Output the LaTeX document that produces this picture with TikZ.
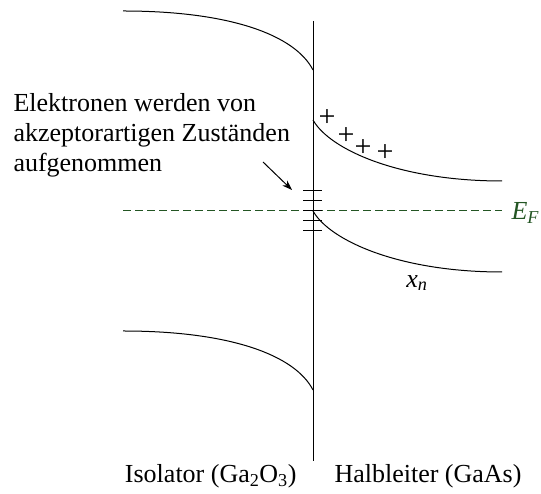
\documentclass[tikz,border=0pt]{standalone}
\usepackage{fontspec}
\setmainfont{Liberation Serif}
\usetikzlibrary{arrows.meta}
\definecolor{fermigreen}{RGB}{35,85,35}
\begin{document}
\begin{tikzpicture}[x=1pt,y=1pt,line width=1pt,>={Stealth[length=10pt,width=7pt]},
  every node/.style={font=\fontsize{26}{30}\selectfont, inner sep=0pt}]
\useasboundingbox (0,0) rectangle (541,494);
% interface
\draw (313,473) -- (313,33);
% bands, insulator
\draw (123,483) .. controls (230,483) and (295,459) .. (313,424);
\draw (123,163) .. controls (230,163) and (295,139) .. (313,104);
% bands, semiconductor
\draw (313,374) .. controls (330,344) and (400,313) .. (502,313);
\draw (313,283) .. controls (330,253) and (400,222) .. (502,222);
% fermi level
\draw[fermigreen, dash pattern=on 8pt off 4pt] (123,283) -- (502,283);
\node[text=fermigreen, anchor=west] (ef) at (511,281) {\textit{E}\textsubscript{\textit{F}}};
% interface states
\foreach \y in {303,293,283,273,263}
  \draw (303,\y) -- (322,\y);
% positive charges
\node[font=\fontsize{30}{30}\selectfont] (p1) at (327,376) {+};
\node[font=\fontsize{30}{30}\selectfont] (p2) at (346,358) {+};
\node[font=\fontsize{30}{30}\selectfont] (p3) at (363,346) {+};
\node[font=\fontsize{30}{30}\selectfont] (p4) at (385,341) {+};
\node (xn) at (417,211) {\textit{x}\textsubscript{\textit{n}}};
% annotation
\node[anchor=north west, align=left] (txt) at (13,401) {Elektronen werden von\\akzeptorartigen Zuständen\\aufgenommen};
\coordinate (from) at (263,332);
\coordinate (states) at (292,304);
\draw[->] (from) -- (states);
% labels
\node[anchor=base east] (iso) at (297,11) {Isolator (Ga\textsubscript{2}O\textsubscript{3})};
\node[anchor=base west] (hl) at (334,11) {Halbleiter (GaAs)};
\end{tikzpicture}
\end{document}
